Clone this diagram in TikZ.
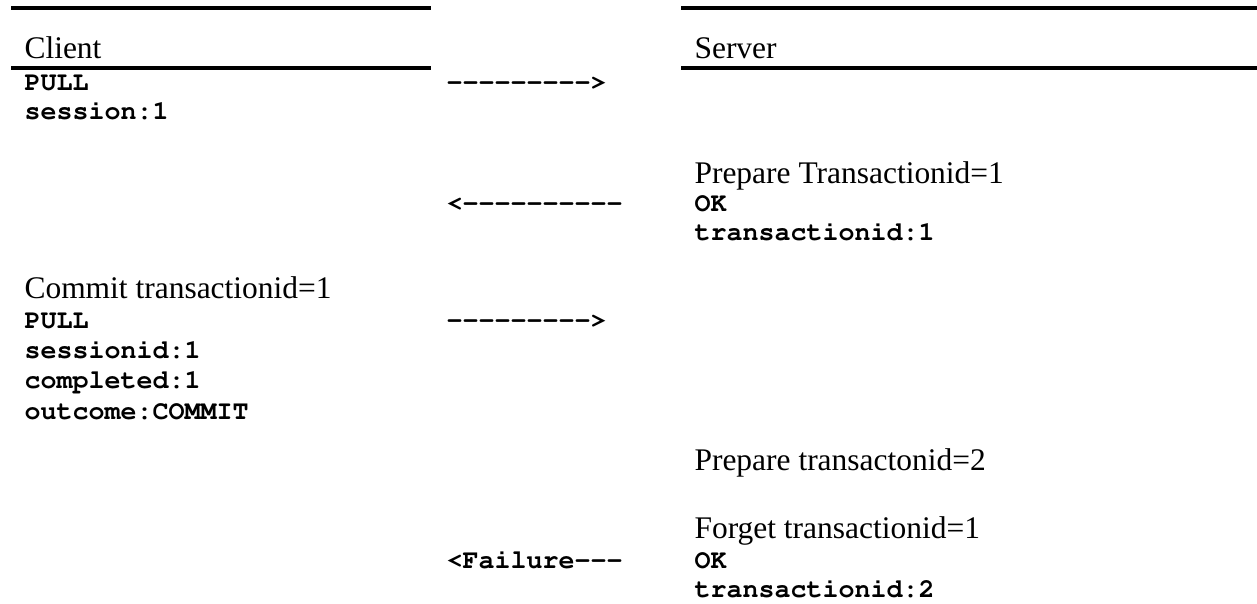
\documentclass[tikz,border=0pt]{standalone}
\usepackage[T1]{fontenc}
\usepackage{fontspec}
\setmainfont{Liberation Serif}
\setmonofont{Liberation Mono}
\usetikzlibrary{calc}

\begin{document}
\begin{tikzpicture}[x=0.375pt,y=-0.375pt,
    every node/.style={inner sep=0pt,anchor=base west},
    head/.style={font=\fontsize{11.8}{14}\selectfont},
    code/.style={font=\fontencoding{T1}\fontfamily{pcr}\fontseries{b}\fontsize{10}{12}\selectfont},
    rule/.style={line width=1.25pt}]
  \useasboundingbox (0,0) rectangle (1257,604);

  % header rules
  \draw[rule] (11,8)--(431,8);
  \draw[rule] (681,8)--(1257,8);
  \draw[rule] (11,68)--(431,68);
  \draw[rule] (681,68)--(1257,68);

  \begin{scope}
    % client side
    \node[head] (client) at (24,59) {Client};
    \node[code] (pull1) at (24,91) {PULL};
    \node[code] (sess1) at (24,120) {session:1};

    \node[head] (commit) at (24,299) {Commit transactionid=1};
    \node[code] (pull2) at (24,329) {PULL};
    \node[code] (sessid2) at (24,359) {sessionid:1};
    \node[code] (compl2) at (24,389) {completed:1};
    \node[code] (outcome2) at (24,420) {outcome:COMMIT};
  \end{scope}

  \begin{scope}
    % messages in between
    \node[code] (sendpull) at (446,91) {-{}-{}-{}-{}-{}-{}-{}-{}->};
    \node[code] (replyok) at (446,212) {<-{}-{}-{}-{}-{}-{}-{}-{}-{}-};
    \node[code] (sendcommit) at (446,329) {-{}-{}-{}-{}-{}-{}-{}-{}->};
    \node[code] (replyfail) at (446,568) {<Failure-{}-{}-};
  \end{scope}

  \begin{scope}
    % server side
    \node[head] (server) at (694,59) {Server};
    \node[head] (prep1) at (694,184) {Prepare Transactionid=1};
    \node[code] (ok1) at (694,212) {OK};
    \node[code] (tid1) at (694,241) {transactionid:1};

    \node[head] (prep2) at (694,471) {Prepare transactonid=2};
    \node[head] (forget1) at (694,539) {Forget transactionid=1};
    \node[code] (ok2) at (694,568) {OK};
    \node[code] (tid2) at (694,597) {transactionid:2};
  \end{scope}
\end{tikzpicture}
\end{document}
